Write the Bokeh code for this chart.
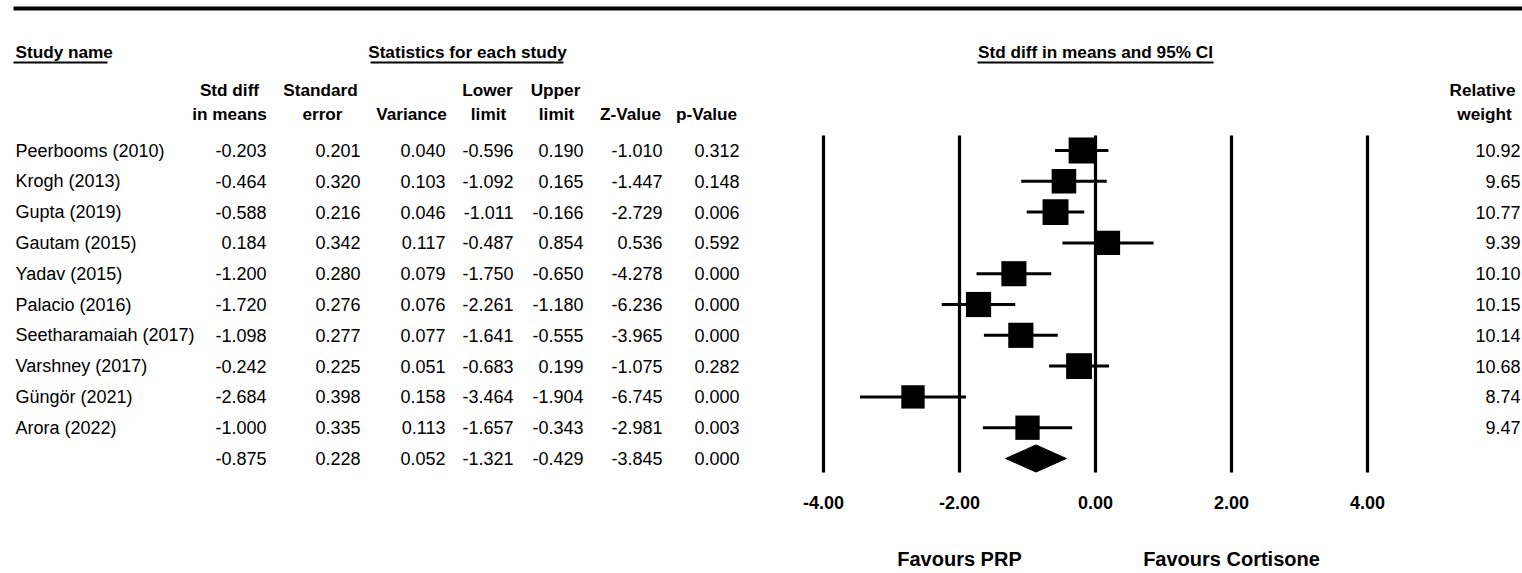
from bokeh.plotting import figure
from bokeh.models import Range1d, ColumnDataSource
from bokeh.core.properties import value
from bokeh.embed import file_html
from bokeh.resources import INLINE
import math

# ---------------- data ----------------
studies = ["Peerbooms (2010)", "Krogh (2013)", "Gupta (2019)", "Gautam (2015)",
           "Yadav (2015)", "Palacio (2016)", "Seetharamaiah (2017)", "Varshney (2017)",
           "Güngör (2021)", "Arora (2022)"]
std_diff = [-0.203, -0.464, -0.588, 0.184, -1.200, -1.720, -1.098, -0.242, -2.684, -1.000]
std_err = [0.201, 0.320, 0.216, 0.342, 0.280, 0.276, 0.277, 0.225, 0.398, 0.335]
variance = [0.040, 0.103, 0.046, 0.117, 0.079, 0.076, 0.077, 0.051, 0.158, 0.113]
lower = [-0.596, -1.092, -1.011, -0.487, -1.750, -2.261, -1.641, -0.683, -3.464, -1.657]
upper = [0.190, 0.165, -0.166, 0.854, -0.650, -1.180, -0.555, 0.199, -1.904, -0.343]
z_value = [-1.010, -1.447, -2.729, 0.536, -4.278, -6.236, -3.965, -1.075, -6.745, -2.981]
p_value = [0.312, 0.148, 0.006, 0.592, 0.000, 0.000, 0.000, 0.282, 0.000, 0.003]
rel_weight = [10.92, 9.65, 10.77, 9.39, 10.10, 10.15, 10.14, 10.68, 8.74, 9.47]

# pooled (summary) row: std diff, se, variance, lower, upper, z, p
pooled = [-0.875, 0.228, 0.052, -1.321, -0.429, -3.845, 0.000]

ticks = [-4, -2, 0, 2, 4]
tick_labels = ["-4.00", "-2.00", "0.00", "2.00", "4.00"]
favours = ["Favours PRP", "Favours Cortisone"]
favours_at = [-2, 2]

# ---------------- layout constants ----------------
W, H = 1522, 573
ZERO_PX, UNIT_PX = 1095.0, 68.0     # effect-size axis placement
ROW0_PX, ROW_PX = 150.0, 30.8       # row placement
FONT = value("Liberation Sans")
FS = "18px"
FSB = "17.2px"
BLACK = "#000000"

p = figure(width=W, height=H, output_backend="svg", toolbar_location=None,
           x_range=Range1d(0, W), y_range=Range1d(H, 0),
           x_axis_type=None, y_axis_type=None, min_border=0)
p.grid.visible = False
p.outline_line_color = None
p.background_fill_color = "white"
p.border_fill_color = "white"

p.extra_x_ranges = {"es": Range1d((0 - ZERO_PX) / UNIT_PX, (W - ZERO_PX) / UNIT_PX)}
p.extra_y_ranges = {"row": Range1d((H - ROW0_PX) / ROW_PX, (0 - ROW0_PX) / ROW_PX)}

n = len(studies)
rows = list(range(n))
sum_row = n


def txt(x, y, text, align="left", bold=False, size=None, yr="row", xr="default"):
    kw = {}
    if yr != "default":
        kw["y_range_name"] = yr
    if xr != "default":
        kw["x_range_name"] = xr
    if size is None:
        size = FSB if bold else FS
    p.text(x=x, y=y, text=text, text_align=align, text_baseline="middle",
           text_font=FONT, text_font_size=size,
           text_font_style="bold" if bold else "normal", text_color=BLACK, **kw)


# top rule
p.segment(x0=[13], y0=[8], x1=[W], y1=[8], line_width=4, line_color=BLACK)

# group headers (page-pixel y)
txt([15], [51], ["Study name"], bold=True, yr="default")
txt([467], [51], ["Statistics for each study"], align="center", bold=True, yr="default")
txt([1095], [51], ["Std diff in means and 95% CI"], align="center", bold=True, yr="default")
p.segment(x0=[13, 370, 977], y0=[62, 62, 62], x1=[107, 563, 1213], y1=[62, 62, 62],
          line_width=2, line_color=BLACK)

# column headers
hdr1_x = [229, 320, 487, 555, 1482]
hdr1_t = ["Std diff", "Standard", "Lower", "Upper", "Relative"]
hdr2_x = [229, 322, 411, 488, 556, 630, 706, 1484]
hdr2_t = ["in means", "error", "Variance", "limit", "limit", "Z-Value", "p-Value", "weight"]
txt(hdr1_x, [89] * len(hdr1_x), hdr1_t, align="center", bold=True, yr="default")
txt(hdr2_x, [113] * len(hdr2_x), hdr2_t, align="center", bold=True, yr="default")

# table body
f3 = lambda v: f"{v:.3f}"
txt([15] * n, rows, studies)
cols_right = [266, 360, 445, 513, 583, 662, 739]
cols = [std_diff, std_err, variance, lower, upper, z_value, p_value]
for cx, col, pv in zip(cols_right, cols, pooled):
    txt([cx] * (n + 1), rows + [sum_row], [f3(v) for v in col] + [f3(pv)], align="right")
txt([1520] * n, rows, [f"{v:.2f}" for v in rel_weight], align="right")

# forest plot: reference lines
p.segment(x0=ticks, x1=ticks, y0=[-0.487] * len(ticks), y1=[10.455] * len(ticks),
          line_width=3.2, line_color=BLACK, x_range_name="es", y_range_name="row")
txt(ticks, [11.43] * len(ticks), tick_labels, align="center", bold=True, size="18px", xr="es")

# confidence intervals
src = ColumnDataSource(dict(est=std_diff, lo=lower, hi=upper, row=rows,
                            size=[7.9 * math.sqrt(w) for w in rel_weight]))
p.segment(x0="lo", x1="hi", y0="row", y1="row", source=src, line_width=3,
          line_color=BLACK, line_cap="butt", x_range_name="es", y_range_name="row")
p.scatter(x="est", y="row", size="size", marker="square", source=src,
          fill_color=BLACK, line_color=None, x_range_name="es", y_range_name="row")

# summary diamond
hh = 0.44
p.patch(x=[pooled[3], pooled[0], pooled[4], pooled[0]],
        y=[sum_row, sum_row - hh, sum_row, sum_row + hh],
        fill_color=BLACK, line_color=BLACK, x_range_name="es", y_range_name="row")

# favours labels
txt(favours_at, [13.25, 13.25], favours, align="center", bold=True, size="20px", xr="es")

open("out.html", "w").write(file_html(p, INLINE))
